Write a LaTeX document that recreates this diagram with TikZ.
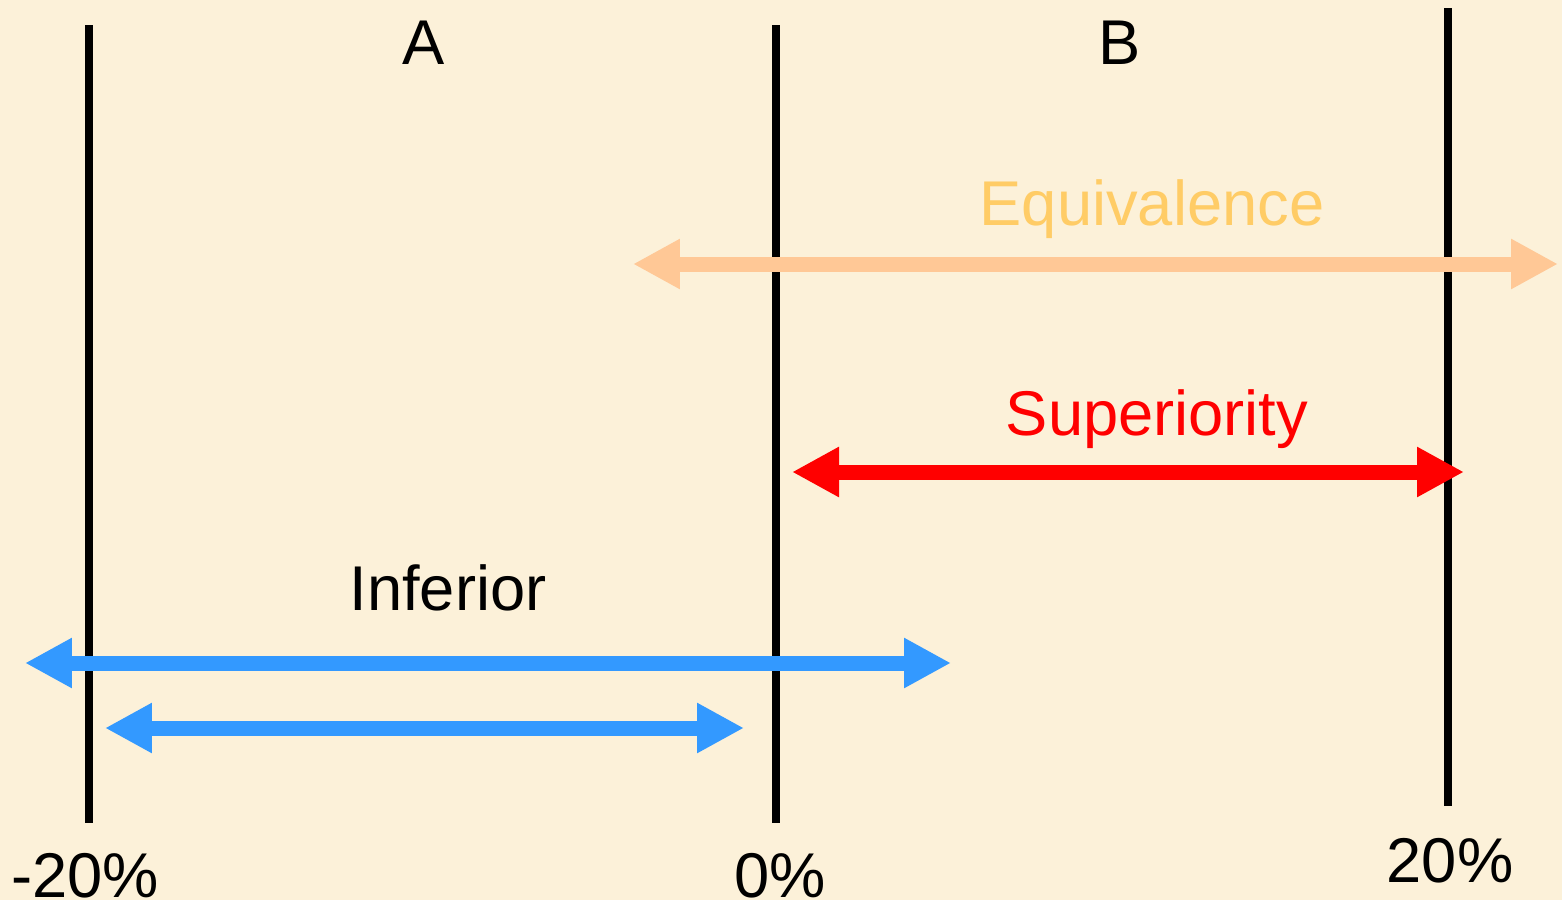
\documentclass[tikz,border=0pt]{standalone}
\usepackage{fontspec}
\setmainfont{Liberation Sans}
\usetikzlibrary{arrows.meta, positioning}

\definecolor{parchment}{HTML}{FCF1D9}
\definecolor{equivtext}{HTML}{FFCC66}
\definecolor{equivarrow}{HTML}{FFC896}
\definecolor{supred}{HTML}{FF0000}
\definecolor{infblue}{HTML}{3399FF}

\begin{document}
\begin{tikzpicture}[
    x=0.02cm, y=-0.02cm,
    tag/.style={inner sep=0pt, anchor=base, font=\fontsize{36}{40}\selectfont},
    bound/.style={line width=0.15cm, black},
    spanarrow/.style={line width=0.3cm, {Triangle[length=0.94cm,width=0.94cm]}-{Triangle[length=0.94cm,width=0.94cm]}}
  ]
    % Background
    \fill[parchment] (0,0) rectangle (1562,900);
    \useasboundingbox (0,0) rectangle (1562,900);

    % Margin lines
    \coordinate (lowtop) at (89,25);
    \coordinate (lowbot) at (89,823);
    \coordinate (zerotop) at (776,25);
    \coordinate (zerobot) at (776,823);
    \coordinate (hightop) at (1448,8);
    \coordinate (highbot) at (1448,806);
    \draw [bound] (lowtop) -- (lowbot);
    \draw [bound] (zerotop) -- (zerobot);
    \draw [bound] (hightop) -- (highbot);

    % Labels
    \node (A) [tag] at (424,64) {A};
    \node (B) [tag] at (1120,64) {B};
    \node (equiv) [tag, text=equivtext] at (1152,225) {Equivalence};
    \node (super) [tag, text=supred] at (1157,435) {Superiority};
    \node (infer) [tag] at (448,610) {Inferior};
    \node (low) [tag] at (85,897) {-20\%};
    \node (zero) [tag] at (780,897) {0\%};
    \node (high) [tag] at (1450,882) {20\%};

    % Ranges
    \coordinate (equivL) at (633,264);
    \coordinate (equivR) at (1558,264);
    \coordinate (superL) at (792,472);
    \coordinate (superR) at (1464,472);
    \coordinate (inferL) at (25,663);
    \coordinate (inferR) at (951,663);
    \coordinate (innerL) at (105,728);
    \coordinate (innerR) at (744,728);
    \draw [spanarrow, equivarrow] (equivL) -- (equivR);
    \draw [spanarrow, supred] (superL) -- (superR);
    \draw [spanarrow, infblue] (inferL) -- (inferR);
    \draw [spanarrow, infblue] (innerL) -- (innerR);

\end{tikzpicture}
\end{document}
